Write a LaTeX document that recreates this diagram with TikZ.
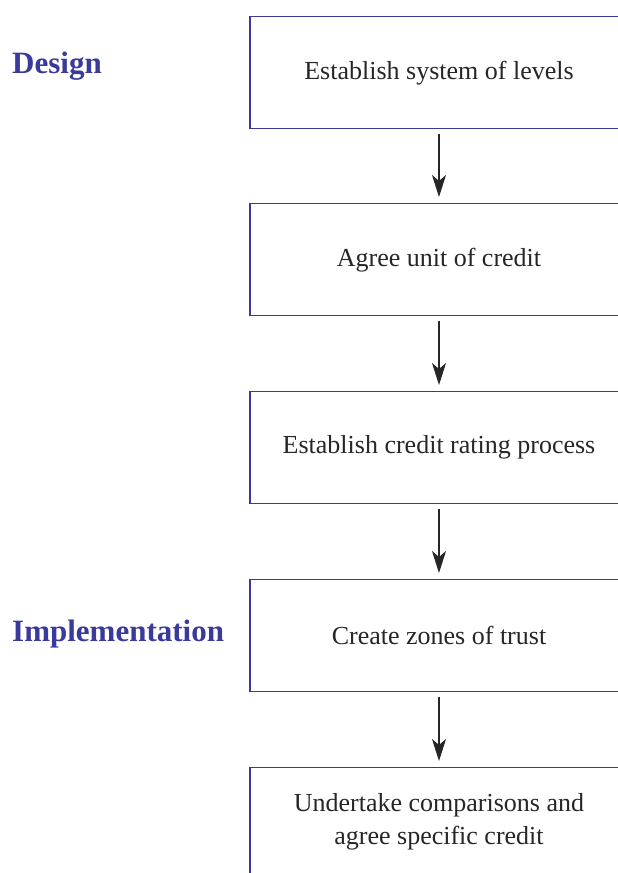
\documentclass[tikz,border=0pt]{standalone}
\usepackage{fontspec}
\setmainfont{Liberation Serif}
\usetikzlibrary{arrows.meta}
\definecolor{dblue}{HTML}{3A3A9A}
\begin{document}
\begin{tikzpicture}[x=1pt,y=-1pt,
  stagebox/.style={draw=dblue, line width=1.3pt, minimum width=378pt, minimum height=112pt, anchor=north, inner sep=0pt, font=\fontsize{26}{31}\selectfont, align=center, text=black!85},
  phase/.style={anchor=west, text=dblue, font=\fontsize{31}{36}\selectfont\bfseries, inner sep=0pt},
  flow/.style={draw=black!85, line width=1.2pt, -{Stealth[length=22pt,width=14pt,inset=6pt]}, shorten <=5pt, shorten >=6pt}]
\useasboundingbox (0,0) rectangle (618,873);
\clip (0,0) rectangle (618,873);
\node[stagebox] (b1) at (439,16) {Establish system of levels};
\node[stagebox] (b2) at (439,203) {Agree unit of credit};
\node[stagebox] (b3) at (439,391) {Establish credit rating process};
\node[stagebox] (b4) at (439,579) {Create zones of trust};
\node[stagebox, minimum height=130pt] (b5) at (439,767) {};
\node[font=\fontsize{26}{33}\selectfont, align=center, text=black!85, inner sep=0pt] (t5) at (439,822) {Undertake comparisons and\\agree specific credit};
\node[phase] (design) at (12,66) {Design};
\node[phase] (impl) at (12,634) {Implementation};
\draw[flow] (b1.south) -- (b2.north);
\draw[flow] (b2.south) -- (b3.north);
\draw[flow] (b3.south) -- (b4.north);
\draw[flow] (b4.south) -- (b5.north);
\end{tikzpicture}
\end{document}
